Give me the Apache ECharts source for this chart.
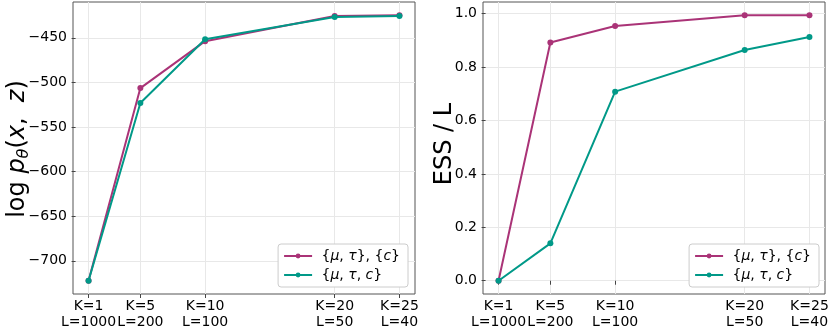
<!DOCTYPE html>
<html>
<head>
<meta charset="utf-8">
<script src="https://cdn.jsdelivr.net/npm/echarts@6/dist/echarts.min.js"></script>
<style>
  html, body { margin: 0; padding: 0; background: #fff; }
  #chart { width: 831px; height: 332px; }
</style>
</head>
<body>
<div id="chart"></div>
<script>
// K values on the x axis, with the L that goes with each
const kValues = [1, 5, 10, 20, 25];
const lValues = [1000, 200, 100, 50, 40];

// left panel: log p(x, z)
const logpGrouped = [-722.3, -506.3, -453.7, -425.4, -424.7];
const logpJoint = [-722.3, -523.0, -451.5, -426.6, -425.5];

// right panel: ESS / L
const essGrouped = [0.0, 0.892, 0.954, 0.994, 0.994];
const essJoint = [0.0, 0.140, 0.708, 0.864, 0.913];

const leftTicks = [-700, -650, -600, -550, -500, -450];
const rightTicks = [0.0, 0.2, 0.4, 0.6, 0.8, 1.0];

const nameGrouped = 'grouped';
const nameJoint = 'joint';
const purple = '#AA3377';
const teal = '#009988';
const font = 'DejaVu Sans';
const tickSize = 14;

const pairs = (ys) => kValues.map((k, i) => [k, ys[i]]);
const xLabel = (v) => {
  const i = kValues.indexOf(v);
  return i < 0 ? '' : 'K=' + v + '\nL=' + lValues[i];
};

function kAxis(gridIndex) {
  return {
    type: 'value',
    gridIndex,
    min: -0.2,
    max: 26.2,
    interval: 0.2,
    axisLine: { show: false },
    axisTick: { show: true, interval: 0, length: 4, lineStyle: { color: '#444' }, customValues: kValues },
    splitLine: { show: true, interval: 0, lineStyle: { color: '#e8e8e8' } },
    axisLabel: {
      customValues: kValues,
      formatter: xLabel,
      interval: 0,
      hideOverlap: false,
      color: '#000',
      fontFamily: font,
      fontSize: tickSize,
      lineHeight: 16,
      margin: 4
    }
  };
}

function yAxis(gridIndex, min, max, ticks, fmt) {
  return {
    type: 'value',
    gridIndex,
    min,
    max,
    axisLine: { show: false },
    axisTick: { show: true, length: 4, lineStyle: { color: '#444' }, customValues: ticks },
    splitLine: { show: true, lineStyle: { color: '#e8e8e8' } },
    axisLabel: {
      customValues: ticks,
      formatter: fmt,
      color: '#000',
      fontFamily: font,
      fontSize: tickSize,
      margin: 6
    }
  };
}

// axis titles, drawn as rotated text so they can sit where the reference has them
const titleRich = {
  n: { fontFamily: font, fontSize: 24, color: '#000' },
  i: { fontFamily: font, fontSize: 24, fontStyle: 'italic', color: '#000' },
  s: { fontFamily: font, fontSize: 16, fontStyle: 'italic', color: '#000',
    verticalAlign: 'bottom', padding: [12, 0, 0, 0] }
};

function axisTitle(text, x, y) {
  return {
    type: 'text',
    x,
    y,
    rotation: Math.PI / 2,
    style: {
      text,
      fill: '#000',
      font: '24px "DejaVu Sans"',
      align: 'center',
      verticalAlign: 'middle',
      rich: titleRich
    }
  };
}

function line(name, color, data, xi, yi) {
  return {
    name,
    type: 'line',
    xAxisIndex: xi,
    yAxisIndex: yi,
    data,
    color,
    symbol: 'circle',
    symbolSize: 6,
    lineStyle: { width: 2, color },
    itemStyle: { color },
    z: name === nameGrouped ? 3 : 4
  };
}

const legendRich = {
  i: { fontFamily: font, fontSize: 14, fontStyle: 'italic', color: '#000' }
};
const legendFmt = (n) => n === nameGrouped ? ' {{i|μ}, {i|τ}}, {{i|c}}' : ' {{i|μ}, {i|τ}, {i|c}}';

function legend(right) {
  return {
    data: [nameGrouped, nameJoint],
    orient: 'vertical',
    right,
    bottom: 45,
    itemWidth: 28,
    itemHeight: 6,
    itemGap: 5,
    padding: [5, 8, 5, 5],
    borderColor: '#ccc',
    borderWidth: 1,
    borderRadius: 3,
    backgroundColor: '#fff',
    formatter: legendFmt,
    textStyle: { fontFamily: font, fontSize: 14, color: '#000', rich: legendRich }
  };
}

const chart = echarts.init(document.getElementById('chart'), null, { renderer: 'canvas' });

chart.setOption({
  animation: false,
  backgroundColor: '#fff',
  grid: [
    { left: 73, right: 416, top: 2, bottom: 38, outerBoundsMode: 'none', containLabel: false,
      show: true, borderColor: '#555', borderWidth: 1, backgroundColor: 'transparent' },
    { left: 483, right: 6, top: 2, bottom: 38, outerBoundsMode: 'none', containLabel: false,
      show: true, borderColor: '#555', borderWidth: 1, backgroundColor: 'transparent' }
  ],
  legend: [legend(423), legend(12)],
  xAxis: [kAxis(0), kAxis(1)],
  yAxis: [
    yAxis(0, -737.2, -409.8, leftTicks, (v) => String(v).replace('-', '\u2212')),
    yAxis(1, -0.0497, 1.0437, rightTicks, (v) => v.toFixed(1))
  ],
  graphic: [
    axisTitle('{n|log }{i|p}{s|θ}{n|(}{i|x}{n|,  }{i|z}{n|)}', 18, 149),
    axisTitle('{n|ESS / L}', 445, 144)
  ],
  series: [
    line(nameGrouped, purple, pairs(logpGrouped), 0, 0),
    line(nameJoint, teal, pairs(logpJoint), 0, 0),
    line(nameGrouped, purple, pairs(essGrouped), 1, 1),
    line(nameJoint, teal, pairs(essJoint), 1, 1)
  ]
});
</script>
</body>
</html>
